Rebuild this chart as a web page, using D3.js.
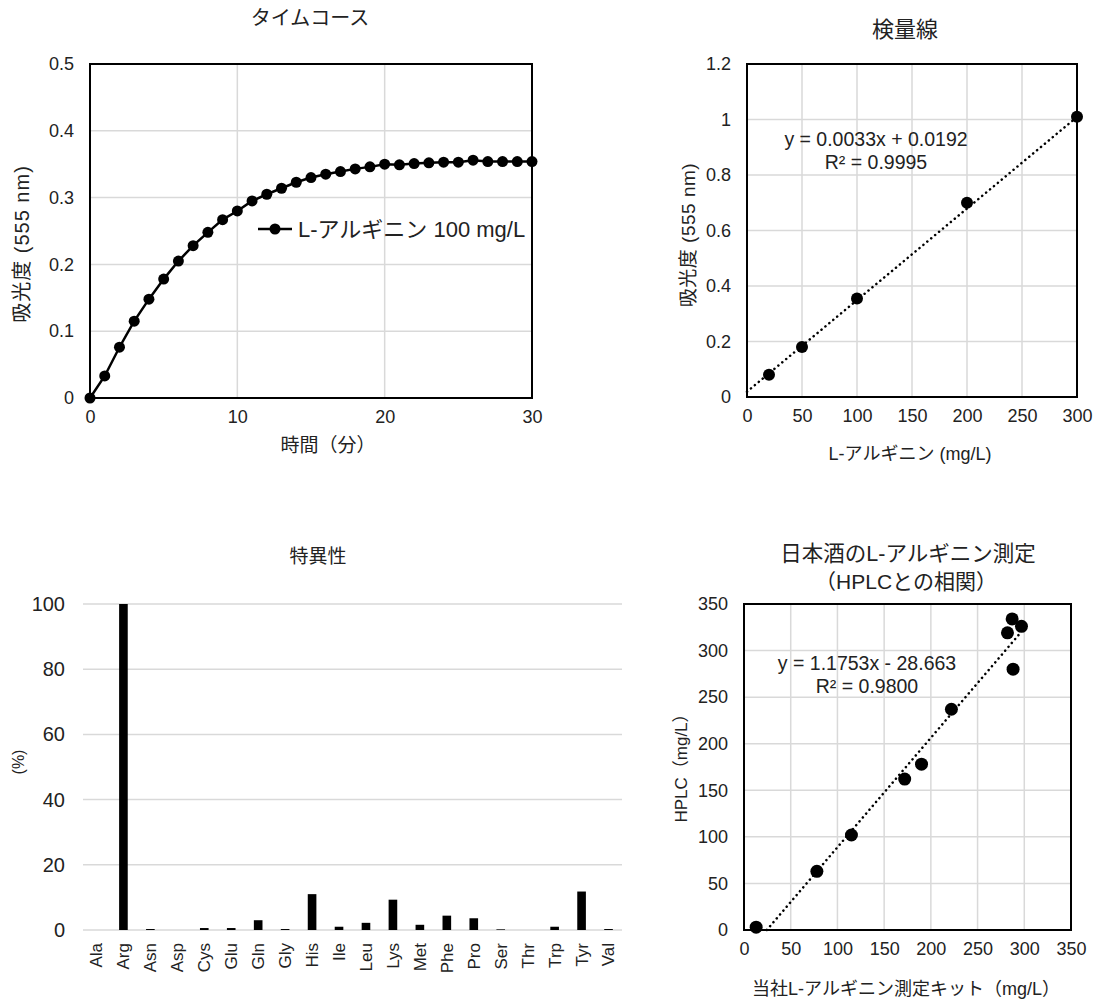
<!DOCTYPE html>
<html><head><meta charset="utf-8">
<script src="https://cdn.jsdelivr.net/npm/d3@7"></script>
<style>
body{margin:0;background:#fff;}
text{font-family:"Liberation Sans","Noto Sans CJK JP",sans-serif;fill:#222;}
</style></head>
<body><svg id="c" width="1105" height="1002"></svg>
<script>
// ---- Data ----
const timeMin = [0,1,2,3,4,5,6,7,8,9,10,11,12,13,14,15,16,17,18,19,20,21,22,23,24,25,26,27,28,29,30];
const timeAbs = [0,0.033,0.076,0.115,0.148,0.178,0.205,0.228,0.248,0.267,0.280,0.295,0.305,0.314,0.323,0.330,0.335,0.339,0.343,0.346,0.350,0.349,0.351,0.352,0.353,0.353,0.356,0.354,0.354,0.354,0.354];
const calConc = [20,50,100,200,300];
const calAbs = [0.08,0.18,0.355,0.70,1.01];
const calSlope = 0.0033, calIntercept = 0.0192;
const aminoAcids = ["Ala","Arg","Asn","Asp","Cys","Glu","Gln","Gly","His","Ile","Leu","Lys","Met","Phe","Pro","Ser","Thr","Trp","Tyr","Val"];
const specificity = [0,100,0.3,0,0.6,0.6,3.0,0.3,11,1.0,2.2,9.3,1.6,4.4,3.6,0.2,0,1.0,11.8,0.3];
const kitVals = [13,78,115,172,190,222,282,287,288,297];
const hplcVals = [3,63,102,162,178,237,319,334,280,326];
const corrSlope = 1.1753, corrIntercept = -28.663;

const svg = d3.select("#c");
const GRID = "#d9d9d9";

function vLabel(g, cx, cy, fs, txt, extra) {
  const gg = g.append("g").attr("transform",`translate(${cx},${cy})`).append("g").attr("transform","rotate(-90)");
  const t = gg.append("text").attr("x",0).attr("y",0).attr("text-anchor","middle").attr("font-size",fs).text(txt);
  if (extra) extra(t);
  return t;
}

function framedChart(g, x, y, xTicks, yTicks, xFmt, yFmt, fs) {
  const [x0,x1] = x.range(), [y0,y1] = y.range();
  g.append("g").selectAll("line").data(xTicks).join("line")
    .attr("x1",d=>x(d)).attr("x2",d=>x(d)).attr("y1",y0).attr("y2",y1)
    .attr("stroke",GRID).attr("stroke-width",1.5);
  g.append("g").selectAll("line").data(yTicks).join("line")
    .attr("y1",d=>y(d)).attr("y2",d=>y(d)).attr("x1",x0).attr("x2",x1)
    .attr("stroke",GRID).attr("stroke-width",1.5);
  g.append("rect").attr("x",x0).attr("y",y1).attr("width",x1-x0).attr("height",y0-y1)
    .attr("fill","none").attr("stroke","#000").attr("stroke-width",2);
  const xa = g.append("g").attr("transform",`translate(0,${y0})`)
    .call(d3.axisBottom(x).tickValues(xTicks).tickFormat(xFmt).tickSize(0).tickPadding(12));
  const ya = g.append("g").attr("transform",`translate(${x0},0)`)
    .call(d3.axisLeft(y).tickValues(yTicks).tickFormat(yFmt).tickSize(0).tickPadding(16));
  [xa,ya].forEach(a=>{a.select(".domain").remove(); a.selectAll("text").attr("font-size",fs).attr("fill","#222");});
}

// ---- Chart 1: time course ----
{
  const g = svg.append("g");
  const x = d3.scaleLinear().domain([0,30]).range([90,532]);
  const y = d3.scaleLinear().domain([0,0.5]).range([398,64]);
  framedChart(g,x,y,[0,10,20,30],[0,0.1,0.2,0.3,0.4,0.5],d3.format("d"),d=>d===0?"0":d3.format(".1f")(d),18);
  const pts = timeMin.map((t,i)=>[t,timeAbs[i]]);
  g.append("path").datum(pts).attr("d",d3.line().x(d=>x(d[0])).y(d=>y(d[1])))
    .attr("fill","none").attr("stroke","#000").attr("stroke-width",2.5);
  g.append("g").selectAll("circle").data(pts).join("circle")
    .attr("cx",d=>x(d[0])).attr("cy",d=>y(d[1])).attr("r",5.5).attr("fill","#000");
  // legend
  g.append("line").attr("x1",258).attr("x2",292).attr("y1",229).attr("y2",229).attr("stroke","#000").attr("stroke-width",2.5);
  g.append("circle").attr("cx",275).attr("cy",229).attr("r",5.5).attr("fill","#000");
  g.append("text").attr("x",298).attr("y",237).attr("font-size",22).text("L-アルギニン 100 mg/L");
  g.append("text").attr("x",310).attr("y",25).attr("text-anchor","middle").attr("font-size",20).text("タイムコース");
  vLabel(g,29,244,20,"吸光度 (555 nm)",t=>t.attr("letter-spacing",1));
  g.append("text").attr("x",328).attr("y",452).attr("text-anchor","middle").attr("font-size",19).text("時間（分）");
}

// ---- Chart 2: calibration ----
{
  const g = svg.append("g");
  const x = d3.scaleLinear().domain([0,300]).range([747,1077]);
  const y = d3.scaleLinear().domain([0,1.2]).range([397,64]);
  framedChart(g,x,y,d3.range(0,301,50),[0,0.2,0.4,0.6,0.8,1,1.2],d3.format("d"),d=>(d===0||d===1)?String(d):d3.format(".1f")(d),18);
  g.append("line").attr("x1",x(0)).attr("y1",y(calIntercept)).attr("x2",x(300)).attr("y2",y(calSlope*300+calIntercept))
    .attr("stroke","#000").attr("stroke-width",2.5).attr("stroke-dasharray","0.1,5").attr("stroke-linecap","round");
  g.append("g").selectAll("circle").data(calConc).join("circle")
    .attr("cx",d=>x(d)).attr("cy",(d,i)=>y(calAbs[i])).attr("r",6).attr("fill","#000");
  g.append("text").attr("x",876).attr("y",146).attr("text-anchor","middle").attr("font-size",19.5).text("y = 0.0033x + 0.0192");
  g.append("text").attr("x",876).attr("y",169).attr("text-anchor","middle").attr("font-size",19.5).text("R² = 0.9995");
  g.append("text").attr("x",905).attr("y",37).attr("text-anchor","middle").attr("font-size",22).text("検量線");
  vLabel(g,695,235,19,"吸光度 (555 nm)",t=>t.attr("letter-spacing",0.5));
  g.append("text").attr("x",910).attr("y",460).attr("text-anchor","middle").attr("font-size",18).text("L-アルギニン (mg/L)");
}

// ---- Chart 3: specificity ----
{
  const g = svg.append("g");
  const x = d3.scaleBand().domain(aminoAcids).range([83,622]).paddingInner(0.68).paddingOuter(0.34);
  const y = d3.scaleLinear().domain([0,100]).range([930,604]);
  const yt = [0,20,40,60,80,100];
  g.append("g").selectAll("line").data(yt).join("line")
    .attr("x1",83).attr("x2",622).attr("y1",d=>y(d)).attr("y2",d=>y(d)).attr("stroke",GRID).attr("stroke-width",1.5);
  g.append("g").selectAll("rect").data(aminoAcids).join("rect")
    .attr("x",d=>x(d)).attr("width",x.bandwidth())
    .attr("y",(d,i)=>y(specificity[i])).attr("height",(d,i)=>y(0)-y(specificity[i])).attr("fill","#000");
  const ya = g.append("g").attr("transform","translate(83,0)")
    .call(d3.axisLeft(y).tickValues(yt).tickSize(0).tickPadding(18));
  ya.select(".domain").remove();
  ya.selectAll("text").attr("font-size",20).attr("fill","#222");
  // rotated category labels: group rotated by -90, so screen (cx, 943) = local (-943, cx)
  const lab = g.append("g").attr("transform","rotate(-90)");
  lab.selectAll("text").data(aminoAcids).join("text")
    .attr("x",-943).attr("y",d=>x(d)+x.bandwidth()/2)
    .attr("text-anchor","end").attr("dy","0.35em").attr("font-size",17).text(d=>d);
  g.append("text").attr("x",318).attr("y",563).attr("text-anchor","middle").attr("font-size",19).text("特異性");
  vLabel(g,24,762,16,"(%)");
}

// ---- Chart 4: correlation ----
{
  const g = svg.append("g");
  const x = d3.scaleLinear().domain([0,350]).range([744,1071]);
  const y = d3.scaleLinear().domain([0,350]).range([930,604]);
  const ticks = d3.range(0,351,50);
  framedChart(g,x,y,ticks,ticks,d3.format("d"),d3.format("d"),18);
  const xs = -corrIntercept/corrSlope, xe = d3.max(kitVals);
  g.append("line").attr("x1",x(xs)).attr("y1",y(0)).attr("x2",x(xe)).attr("y2",y(corrSlope*xe+corrIntercept))
    .attr("stroke","#000").attr("stroke-width",2.5).attr("stroke-dasharray","0.1,5").attr("stroke-linecap","round");
  g.append("g").selectAll("circle").data(kitVals).join("circle")
    .attr("cx",d=>x(d)).attr("cy",(d,i)=>y(hplcVals[i])).attr("r",6.5).attr("fill","#000");
  g.append("text").attr("x",867).attr("y",670).attr("text-anchor","middle").attr("font-size",19.5).text("y = 1.1753x - 28.663");
  g.append("text").attr("x",867).attr("y",693).attr("text-anchor","middle").attr("font-size",19.5).text("R² = 0.9800");
  g.append("text").attr("x",908).attr("y",561).attr("text-anchor","middle").attr("font-size",21.5).text("日本酒のL-アルギニン測定");
  g.append("text").attr("x",906).attr("y",589).attr("text-anchor","middle").attr("font-size",21).text("（HPLCとの相関）");
  vLabel(g,687,764,17,"HPLC（mg/L）");
  g.append("text").attr("x",906).attr("y",995).attr("text-anchor","middle").attr("font-size",18).text("当社L-アルギニン測定キット（mg/L）");
}
</script></body></html>
